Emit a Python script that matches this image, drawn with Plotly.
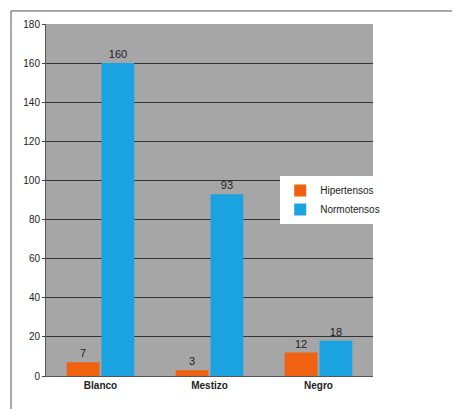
import plotly.graph_objects as go

categories = ["Blanco", "Mestizo", "Negro"]
hipertensos = [7, 3, 12]
normotensos = [160, 93, 18]

fig = go.Figure()
fig.add_bar(name="Hipertensos", x=categories, y=hipertensos, text=hipertensos,
            textposition="outside", marker=dict(color="#f0620f", line=dict(width=0)),
            textfont=dict(size=11, color="#222"))
fig.add_bar(name="Normotensos", x=categories, y=normotensos, text=normotensos,
            textposition="outside", marker=dict(color="#1aa3e0", line=dict(width=0)),
            textfont=dict(size=11, color="#222"))
fig.update_layout(
    width=460, height=409, barmode="group", bargap=0.36, bargroupgap=0.06,
    plot_bgcolor="#a6a6a6", paper_bgcolor="white",
    margin=dict(l=38, r=95, t=16, b=41, autoexpand=False),
    font=dict(family="Liberation Sans, Arial", size=10, color="#222"),
    legend=dict(xref="container", x=0.82, y=0.5, yanchor="middle", font=dict(size=10)),
    shapes=[dict(type="rect", xref="paper", yref="paper", x0=-0.107, x1=1.275, y0=-0.097, y1=1.037,
                 line=dict(color="#555", width=1))],
)
fig.update_xaxes(showline=True, linecolor="#555",
                 tickvals=categories, ticktext=["<b>%s</b>" % c for c in categories],
                 tickfont=dict(size=10, family="Liberation Sans, Arial", color="#222"))
fig.update_yaxes(range=[0, 180], dtick=20, gridcolor="#333", gridwidth=1, showline=True, linecolor="#555",
                 ticks="outside", ticklen=3, zeroline=False)
fig.write_html("out.html")
